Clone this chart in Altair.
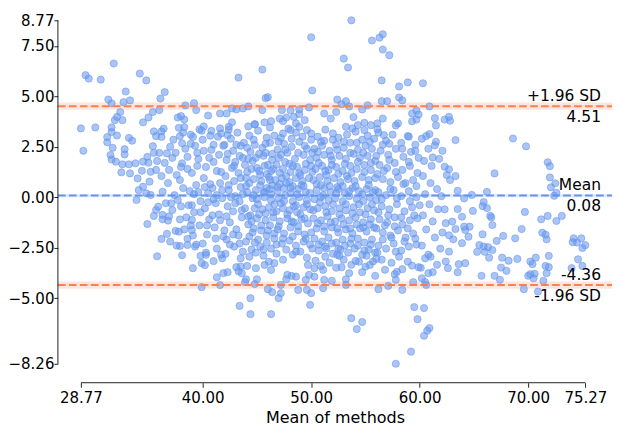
import altair as alt
import pandas as pd

# ---- data: (mean of methods, difference) ----
upper_left = [
    (31.8, 6.63), (29.2, 6.05), (29.5, 5.88), (30.6, 5.83), (34.2, 6.13), (34.8, 5.79), (43.3, 5.93),
    (32.9, 5.24), (31.3, 4.84), (31.6, 4.65), (32.7, 4.71), (33.3, 4.80), (36.1, 4.89), (36.5, 5.21),
    (38.4, 4.55), (39.2, 4.66), (39.4, 4.32), (32.4, 4.22), (32.1, 3.98), (31.9, 3.82), (32.6, 3.82),
    (35.4, 4.22), (36.0, 4.32), (35.0, 3.95), (34.5, 3.71), (37.7, 3.95), (38.0, 4.02), (38.3, 3.85),
    (40.5, 4.05), (41.6, 4.15), (42.2, 4.15), (42.7, 4.40), (43.1, 4.35), (43.7, 4.40), (44.2, 4.50),
    (42.7, 3.71), (42.4, 3.49), (44.2, 3.51), (44.8, 3.62), (28.77, 3.41), (30.1, 3.46), (31.6, 3.46),
    (31.6, 3.23), (31.2, 2.98), (32.1, 3.06), (37.8, 3.44), (38.3, 3.47), (37.9, 3.03), (35.5, 3.26),
    (36.2, 3.26), (35.7, 3.03), (40.1, 3.51), (39.7, 3.36), (40.8, 3.29), (41.6, 3.41), (41.7, 3.16),
    (42.3, 3.08), (39.1, 2.99), (33.2, 2.94),
]
upper_mid = [
    (53.7, 8.77), (50.0, 7.93), (56.6, 8.08), (56.3, 7.91), (55.6, 7.77), (56.6, 7.32), (57.2, 7.04),
    (53.0, 6.87), (53.4, 6.43), (45.5, 6.33), (56.5, 5.79), (58.9, 5.69), (60.3, 5.65), (58.1, 5.49),
    (50.1, 5.29), (45.8, 4.91), (46.0, 4.96), (52.4, 4.84), (53.2, 4.76), (52.8, 4.61), (53.5, 4.50),
    (55.2, 4.56), (54.7, 4.35), (58.1, 4.94), (58.4, 4.80), (56.5, 4.76), (57.0, 4.76), (49.8, 4.45),
    (60.9, 4.50), (59.7, 4.30), (59.3, 4.15), (59.9, 4.10), (59.7, 3.85), (45.5, 4.32), (47.3, 4.32),
    (48.1, 4.30), (48.9, 4.35), (51.2, 4.15), (52.3, 4.22), (51.8, 3.90), (53.9, 3.97), (56.6, 3.90),
    (61.4, 3.92), (62.3, 3.85), (62.7, 3.98), (61.5, 3.56), (45.7, 3.71), (46.2, 3.46), (46.3, 3.77),
    (44.8, 3.61), (47.1, 3.90), (47.7, 3.95), (48.4, 3.98), (48.9, 4.12), (49.4, 3.82), (47.4, 3.77),
    (48.6, 3.66), (48.9, 3.49), (49.6, 3.33), (50.0, 3.16), (48.1, 3.33), (47.4, 3.16), (47.2, 2.94),
    (52.0, 3.16), (53.2, 3.49), (54.3, 3.57), (54.9, 3.69), (55.5, 3.57), (56.1, 3.66), (56.1, 3.37),
    (54.9, 3.33), (53.8, 3.41), (57.8, 3.56), (58.0, 3.66), (59.3, 3.76), (60.6, 3.03), (60.9, 3.13),
    (58.9, 3.03), (56.7, 3.08), (62.8, 3.79), (68.6, 2.91), (63.3, 2.83),
]
right_side = [
    (69.8, 2.52), (61.4, 2.57), (61.2, 1.97), (71.8, 1.73), (72.0, 1.54), (66.9, 1.18), (72.0, 0.98),
    (72.5, 0.69), (72.1, 0.49), (72.6, 0.22), (72.4, 0.07), (66.2, 0.26), (64.8, 0.11), (64.1, -0.06),
    (63.5, 0.32), (63.3, 1.05), (62.8, 0.85), (62.3, 1.51), (62.7, 1.38), (65.9, -0.24), (66.2, -0.54),
    (65.8, -0.44), (64.9, -0.68), (66.5, -0.92), (66.6, -1.00), (66.7, -1.38), (69.7, -0.73), (71.2, -1.10),
    (71.8, -0.93), (72.6, -1.18), (73.1, -0.93), (69.4, -1.58), (67.7, -1.92), (68.8, -2.04), (67.1, -2.17),
    (65.8, -1.84), (71.3, -1.76), (71.6, -1.86), (71.7, -2.09), (74.2, -2.04), (74.9, -2.04), (74.1, -2.23),
    (74.5, -2.25), (75.0, -2.52), (75.27, -2.38), (63.9, -0.97), (63.5, -0.59), (62.3, -0.60), (63.0, -1.21),
    (62.4, -1.29), (63.3, -1.58), (64.1, -1.46), (64.6, -1.46), (64.2, -1.63), (64.5, -1.96), (62.7, -1.89),
    (63.1, -2.09), (63.9, -2.28), (65.5, -2.37), (65.9, -2.45), (66.3, -2.48), (66.7, -2.62), (65.3, -2.71),
    (66.4, -3.00), (67.6, -3.00), (68.2, -3.15), (69.0, -3.06), (70.7, -3.00), (70.2, -3.19), (71.9, -2.91),
    (74.6, -3.08), (61.0, -2.95), (62.4, -3.19), (63.6, -3.32), (64.2, -3.27), (67.5, -3.49), (71.6, -3.41),
    (62.6, -3.52), (63.5, -3.72), (61.2, -3.72), (65.7, -3.90), (66.9, -3.90), (67.4, -4.10), (68.0, -3.65),
    (66.0, -2.71), (70.4, -3.32), (71.9, -3.47), (71.7, -3.77), (70.0, -3.90), (70.2, -3.82), (70.6, -3.80),
    (70.5, -4.02), (71.4, -4.15), (69.6, -4.56), (70.9, -4.68), (74.0, -3.52), (75.0, -3.41),
]
lower_mid = [
    (57.8, -8.26), (59.2, -7.66), (60.4, -6.87), (60.7, -6.62), (60.9, -6.49), (59.8, -6.05), (59.5, -5.45),
    (60.4, -5.50), (53.7, -6.00), (54.7, -6.19), (54.2, -6.54), (49.9, -5.34), (46.3, -5.80), (44.4, -5.80),
    (44.4, -5.01), (47.0, -5.01), (47.2, -4.76), (46.4, -4.71), (46.0, -4.56), (48.8, -4.60), (49.6, -4.60),
    (50.0, -4.76), (51.1, -4.51), (56.2, -4.56), (57.1, -4.40), (58.4, -4.60), (59.4, -4.21), (60.5, -4.21),
    (60.6, -4.35), (57.8, -4.10), (57.7, -3.82), (58.4, -3.57), (59.3, -3.39), (59.9, -3.47), (60.2, -4.02),
    (60.8, -3.77), (53.2, -4.07), (53.2, -4.35), (51.9, -4.15), (51.2, -4.10), (50.3, -3.94), (49.8, -3.85),
    (49.5, -4.10), (44.8, -4.31), (45.0, -4.07), (47.2, -4.35), (47.7, -4.07), (48.2, -3.90), (48.6, -3.94),
    (53.5, -3.77), (54.7, -3.72), (55.9, -3.90), (60.5, -3.03), (55.4, -3.36), (55.7, -3.19), (56.0, -3.06),
    (55.1, -2.90), (54.1, -3.16), (52.8, -3.47), (52.6, -2.91), (52.4, -2.86), (51.3, -2.95), (50.9, -3.41),
    (50.3, -3.52), (49.7, -3.36), (47.8, -3.85), (46.6, -3.27), (46.3, -3.61), (45.7, -3.36), (44.9, -3.52),
]
lower_left = [
    (35.8, -2.93), (38.1, -2.88), (39.1, -3.52), (39.9, -3.27), (40.2, -3.37), (41.0, -3.17), (41.3, -3.97),
    (41.9, -3.77), (42.3, -3.72), (39.9, -4.46), (41.6, -4.36), (43.4, -5.39), (44.0, -4.07), (43.1, -3.47),
    (43.5, -3.44), (44.1, -3.41), (43.3, -3.67), (43.6, -3.77), (43.9, -4.21), (40.3, -2.86), (39.8, -2.91),
    (41.8, -3.03), (42.1, -2.81), (43.5, -3.03), (44.3, -2.95),
]
left_mid = [
    (29.0, 2.30), (31.2, 2.72), (31.7, 2.45), (33.5, 2.80), (32.8, 2.38), (32.8, 2.12), (31.5, 2.09),
    (31.6, 1.87), (32.0, 1.76), (32.6, 1.63), (33.2, 1.63), (33.8, 1.68), (32.5, 1.23), (33.3, 1.18),
    (34.0, 0.93), (34.4, 1.31), (34.5, 1.76), (34.9, 2.00), (35.4, 2.53), (36.2, 2.99), (36.7, 2.17),
    (37.0, 2.50), (38.1, 2.67), (37.5, 2.20), (35.5, 2.20), (35.0, 1.71), (35.7, 1.35), (35.2, 1.26),
    (36.2, 1.05), (36.9, 1.35), (34.1, 0.35), (33.9, -0.14), (34.5, 0.52), (35.1, 0.77), (34.8, 0.19),
    (35.2, 0.11), (36.3, 0.27), (35.9, -0.47), (35.7, -0.64), (35.5, -0.93), (36.3, -0.88), (36.3, -1.10),
    (36.8, -1.16), (34.9, -1.33), (36.2, -2.07), (36.7, -1.82), (37.5, -1.67), (37.8, -1.71), (37.1, -0.30),
    (37.2, -0.64), (37.7, -0.14), (37.9, 0.85), (38.1, 1.68), (38.6, -2.37), (37.9, -2.42), (38.6, -2.06),
    (39.0, -1.13), (39.0, -1.63), (39.3, -2.45),
    (36.0, 2.20), (36.5, 1.70), (37.2, 1.95), (37.6, 1.10), (38.2, 0.45), (36.8, 0.70), (37.4, 0.10),
    (38.0, -0.45), (36.6, -0.30), (37.9, -1.10), (38.3, -1.60), (37.0, -2.20), (38.4, 2.40), (37.3, 2.85),
    (36.4, 3.40), (38.2, 3.20), (35.8, 1.80), (36.9, -0.95), (38.0, 1.50), (37.6, -2.40),
]
core_38_45 = [
    (38.9, 3.10), (39.3, 2.55), (39.6, 1.90), (39.0, 1.20), (39.4, 0.60), (39.8, -0.20), (39.2, -0.75),
    (39.7, -1.40), (39.5, 2.20), (40.0, 2.85), (40.3, 1.50), (40.1, 0.95), (40.5, 0.20), (40.2, -0.55),
    (40.6, -1.10), (40.4, -1.85), (40.0, -2.30), (40.8, 2.35), (41.0, 1.75), (40.9, 0.45), (41.2, -0.30),
    (41.1, -1.50), (41.4, 3.00), (41.5, 2.10), (41.7, 1.25), (41.6, 0.70), (41.8, -0.05), (41.5, -0.85),
    (41.9, -1.95), (41.3, -2.55), (42.0, 2.60), (42.2, 1.85), (42.1, 1.05), (42.4, 0.35), (42.3, -0.45),
    (42.5, -1.25), (42.2, -2.10), (42.6, 2.90), (42.8, 2.30), (42.7, 1.45), (42.9, 0.80), (43.0, 0.05),
    (42.8, -0.70), (43.1, -1.60), (42.9, -2.45), (43.2, 3.20), (43.4, 2.05), (43.3, 1.20), (43.5, 0.50),
    (43.4, -0.20), (43.6, -1.00), (43.3, -1.90), (43.7, -2.70), (43.8, 2.70), (43.9, 1.60), (44.0, 0.95),
    (44.1, 0.25), (43.9, -0.55), (44.2, -1.35), (44.0, -2.20), (44.3, 3.05), (44.4, 2.25), (44.5, 1.40),
    (44.3, 0.70), (44.6, -0.05), (44.4, -0.90), (44.6, -1.75), (44.5, -2.60), (38.7, -0.40), (38.8, 0.30),
    (38.6, 2.00), (39.1, -1.90), (38.5, -1.00), (39.9, 3.30), (40.7, 3.05), (41.3, 0.10), (42.0, -1.65),
    (42.6, 0.00), (43.0, 1.75), (43.7, 0.15), (44.2, 1.90), (40.3, -2.75), (41.7, -2.85), (43.5, 2.55),
    (42.4, 3.35), (41.0, 2.60), (39.6, 0.25), (40.9, -0.90),
    (38.6, 1.40), (38.9, -1.40), (39.2, 0.15), (39.5, 1.55), (39.8, -0.75), (40.1, 2.30), (40.4, -1.40),
    (40.7, 0.65), (41.0, -0.10), (41.3, 1.30), (41.6, -1.15), (41.9, 2.55), (39.4, -2.35), (40.6, 1.95),
    (41.2, -2.05), (38.9, 2.65), (40.2, 0.50), (41.8, 0.35), (39.0, -0.40), (40.5, -0.25),
]
core_45_50 = [
    (45.1, 3.30), (46.6, 3.05), (47.9, 3.40), (49.2, 3.00), (45.9, 2.95), (48.6, 3.20),
    (44.8, 2.60), (45.5, 2.45), (46.2, 2.70), (46.9, 2.35), (47.5, 2.65), (48.2, 2.50), (48.9, 2.75),
    (49.6, 2.40), (45.8, 2.20), (47.2, 2.10),
    (44.9, 1.95), (45.6, 2.05), (46.4, 1.85), (47.0, 1.95), (47.8, 2.20), (48.5, 1.90), (49.3, 2.10),
    (49.9, 1.85), (46.0, 1.60), (48.0, 1.65),
    (45.0, 1.45), (45.7, 1.55), (46.3, 1.30), (46.8, 1.60), (47.4, 1.40), (48.1, 1.25), (48.7, 1.50),
    (49.4, 1.35), (50.0, 1.55), (45.3, 1.10), (47.7, 1.05), (49.0, 1.10),
    (44.7, 0.90), (45.4, 0.80), (46.1, 1.00), (46.7, 0.85), (47.3, 0.95), (48.0, 0.75), (48.6, 0.95),
    (49.2, 0.80), (49.8, 0.95), (46.4, 0.60), (48.3, 0.55), (45.9, 0.45),
    (44.9, 0.35), (45.6, 0.25), (46.2, 0.40), (46.9, 0.30), (47.5, 0.45), (48.1, 0.20), (48.8, 0.40),
    (49.5, 0.25), (47.1, 0.65), (49.1, 0.60),
    (45.0, -0.10), (45.7, 0.00), (46.3, -0.15), (47.0, -0.05), (47.6, 0.10), (48.3, -0.20), (48.9, 0.00),
    (49.6, -0.15), (46.6, -0.35), (48.6, -0.40),
    (44.8, -0.55), (45.5, -0.60), (46.1, -0.50), (46.8, -0.70), (47.4, -0.55), (48.0, -0.65), (48.7, -0.75),
    (49.3, -0.50), (49.9, -0.60), (45.2, -0.85),
    (45.0, -1.05), (45.8, -1.15), (46.5, -1.00), (47.1, -1.20), (47.8, -1.05), (48.4, -1.25), (49.1, -1.10),
    (49.7, -1.30), (46.2, -1.40), (48.1, -1.50),
    (44.7, -1.55), (45.4, -1.65), (46.9, -1.60), (47.5, -1.80), (48.8, -1.70), (49.4, -1.85), (45.9, -1.90),
    (45.1, -2.10), (45.9, -2.25), (46.6, -2.05), (47.3, -2.30), (48.0, -2.15), (48.6, -2.40), (49.3, -2.20),
    (49.9, -2.35), (46.3, -2.55), (47.7, -2.60),
    (44.9, -2.75), (45.6, -2.90), (46.8, -2.80), (48.3, -2.85), (49.0, -2.70), (49.6, -3.00), (47.4, -3.10),
    (46.1, -3.20),
]
core_50_56 = [
    (50.6, 3.00), (51.3, 3.35), (52.5, 2.95), (53.3, 3.10), (54.1, 3.25), (55.2, 3.05), (55.8, 2.90),
    (50.9, 2.75),
    (50.3, 2.40), (51.0, 2.55), (51.7, 2.30), (52.3, 2.60), (53.0, 2.45), (53.6, 2.70), (54.3, 2.35),
    (55.0, 2.55), (55.6, 2.40), (52.0, 2.85), (54.7, 2.85),
    (50.5, 1.95), (51.2, 2.10), (51.9, 1.85), (52.6, 2.05), (53.2, 1.90), (53.9, 2.15), (54.5, 1.95),
    (55.2, 2.05), (55.9, 1.80), (50.1, 2.20),
    (50.4, 1.40), (51.0, 1.55), (51.6, 1.35), (52.3, 1.50), (52.9, 1.30), (53.6, 1.55), (54.2, 1.40),
    (54.9, 1.60), (55.5, 1.35), (51.4, 1.10), (53.3, 1.05),
    (50.2, 0.85), (50.8, 1.00), (51.5, 0.80), (52.1, 0.95), (52.7, 0.75), (53.4, 0.90), (54.0, 0.80),
    (54.7, 1.00), (55.3, 0.85), (55.9, 0.95), (52.4, 0.50),
    (50.5, 0.35), (51.2, 0.45), (51.8, 0.25), (52.5, 0.40), (53.1, 0.20), (53.8, 0.45), (54.4, 0.30),
    (55.1, 0.40), (55.7, 0.25), (50.9, 0.60),
    (50.3, -0.10), (50.9, 0.00), (51.6, -0.15), (52.2, -0.05), (52.9, -0.20), (53.5, 0.05), (54.2, -0.10),
    (54.8, -0.20), (55.4, 0.00), (56.0, -0.15),
    (50.6, -0.55), (51.3, -0.45), (51.9, -0.70), (52.6, -0.55), (53.2, -0.65), (53.9, -0.50), (54.5, -0.75),
    (55.2, -0.55), (55.8, -0.65),
    (50.2, -1.05), (50.9, -1.15), (51.5, -0.95), (52.2, -1.20), (52.8, -1.05), (53.5, -1.15), (54.1, -1.00),
    (54.8, -1.25), (55.5, -1.10),
    (50.5, -1.55), (51.2, -1.70), (51.9, -1.50), (52.5, -1.75), (53.2, -1.60), (53.8, -1.80), (54.5, -1.55),
    (55.1, -1.70), (55.8, -1.50),
    (50.3, -2.05), (51.0, -2.20), (51.6, -2.00), (52.3, -2.25), (52.9, -2.10), (53.6, -2.30), (54.3, -2.05),
    (54.9, -2.25), (55.6, -2.10),
    (50.7, -2.65), (51.4, -2.55), (52.0, -2.80), (52.7, -2.60), (53.4, -2.75), (54.0, -2.55), (54.7, -2.85),
    (55.3, -2.60), (55.9, -2.75),
    (50.4, -3.15), (51.7, -3.25), (53.0, -3.10), (53.7, -3.35), (54.4, -3.20), (55.0, -3.45), (52.3, -3.50),
    (51.1, -3.60),
]
core_56_63 = [
    (56.2, 3.20), (56.9, 2.80), (57.5, 3.10), (58.3, 2.70), (59.0, 3.00), (59.6, 2.60),
    (56.4, 2.30), (57.1, 2.10), (57.8, 2.40), (58.5, 2.00), (59.2, 2.25), (59.9, 1.95),
    (56.3, 1.60), (57.0, 1.45), (57.7, 1.70), (58.4, 1.35), (59.1, 1.55), (59.8, 1.20),
    (56.6, 0.90), (57.3, 0.75), (58.0, 1.00), (58.7, 0.70), (59.4, 0.85),
    (56.2, 0.25), (56.9, 0.10), (57.6, 0.35), (58.3, 0.05), (59.0, 0.30), (59.7, 0.00),
    (56.5, -0.45), (57.2, -0.60), (57.9, -0.35), (58.6, -0.70), (59.3, -0.50), (60.0, -0.40),
    (56.3, -1.10), (57.0, -1.25), (57.7, -1.00), (58.4, -1.35), (59.1, -1.15), (59.8, -1.05),
    (56.6, -1.75), (57.3, -1.90), (58.0, -1.65), (58.7, -2.00), (59.4, -1.80),
    (56.2, -2.40), (56.9, -2.55), (57.6, -2.30), (58.3, -2.65), (59.0, -2.45), (59.7, -2.35),
    (56.5, -3.10), (57.4, -3.25), (58.1, -2.95), (58.9, -3.20), (56.8, -3.60), (57.9, -3.70),
    (60.2, 2.90), (60.8, 2.40), (61.5, 2.75), (62.1, 2.30), (60.4, 1.80), (61.1, 1.55), (61.8, 1.90),
    (62.5, 1.10), (60.3, 1.05), (61.0, 0.70), (61.6, 0.40), (60.5, 0.15), (62.0, 0.05), (60.9, -0.35),
    (61.7, -0.60), (60.3, -0.90), (61.2, -1.20), (62.1, -1.75), (60.6, -1.60), (61.4, -2.00), (60.2, -2.40),
    (61.9, -2.55), (60.8, -2.85), (61.6, -3.35), (60.1, -3.50), (62.7, -2.70),
]
core_dense = [
    (42.3, 2.15), (42.4, 0.60), (42.2, -0.95), (42.5, -2.35),
    (42.9, 1.55), (43.0, -0.30), (42.8, -1.85), (43.1, 2.60),
    (43.5, 0.95), (43.6, -0.65), (43.4, -2.30), (43.7, 1.95),
    (44.1, 2.45), (44.0, 0.55), (44.2, -0.95), (44.3, -1.95), (44.1, 1.25),
    (44.6, 1.80), (44.7, 0.10), (44.5, -1.20), (44.8, -2.25), (44.7, 2.85),
    (45.2, 2.15), (45.3, 0.60), (45.1, -0.35), (45.4, -1.40), (45.2, 1.30), (45.3, -2.45),
    (45.8, 2.65), (45.9, 1.15), (45.7, 0.25), (45.8, -0.80), (46.0, -1.65), (45.6, -2.60),
    (46.4, 2.15), (46.5, 1.40), (46.3, 0.15), (46.5, -0.75), (46.6, -1.80), (46.2, 0.85),
    (47.0, 2.75), (47.1, 1.20), (46.9, 0.50), (47.2, -0.30), (47.0, -1.45), (46.8, -2.35),
    (47.6, 1.75), (47.7, 0.70), (47.5, -0.20), (47.8, -0.85), (47.4, -2.05), (47.6, 2.35),
    (48.2, 2.90), (48.3, 1.55), (48.1, 0.45), (48.4, -0.45), (48.2, -1.20), (48.3, -1.95),
    (48.8, 2.20), (48.9, 1.20), (48.7, 0.15), (49.0, -0.85), (48.8, -1.45), (48.6, -2.70),
    (49.4, 2.55), (49.5, 1.65), (49.3, 0.55), (49.6, -0.35), (49.4, -1.05), (49.5, -2.05),
    (50.0, 2.85), (50.1, 1.25), (49.9, 0.20), (50.2, -0.65), (50.0, -1.75), (50.1, -2.55),
    (50.6, 2.25), (50.7, 1.70), (50.5, 0.65), (50.8, -0.25), (50.6, -1.30), (50.7, -2.35),
    (51.2, 2.80), (51.3, 1.30), (51.1, 0.10), (51.4, -0.75), (51.2, -1.45), (51.3, -2.45),
    (51.8, 2.05), (51.9, 1.60), (51.7, 0.55), (52.0, -0.35), (51.8, -1.25), (51.9, -2.30),
    (52.4, 2.35), (52.5, 1.15), (52.3, 0.20), (52.6, -0.85), (52.4, -1.55), (52.5, -2.55),
    (53.0, 2.75), (53.1, 1.65), (52.9, 0.55), (53.2, -0.35), (53.0, -1.35), (53.1, -2.40),
    (53.6, 2.20), (53.7, 1.20), (53.5, 0.30), (53.8, -0.80), (53.6, -1.55), (53.7, -2.05),
    (54.2, 2.70), (54.3, 1.75), (54.1, 0.55), (54.4, -0.35), (54.2, -1.35), (54.3, -2.40),
    (54.8, 2.20), (54.9, 1.25), (54.7, 0.15), (55.0, -0.85), (54.8, -1.50), (54.9, -2.65),
    (55.4, 2.75), (55.5, 1.70), (55.3, 0.60), (55.6, -0.35), (55.4, -1.35), (55.5, -2.35),
    (56.0, 2.05), (56.1, 1.15), (55.9, 0.35), (56.2, -0.75), (56.0, -1.55), (56.1, -2.75),
    (56.6, 2.60), (56.7, 1.30), (56.5, -0.10), (56.8, -1.40), (56.6, -2.10),
    (57.2, 1.85), (57.3, 0.40), (57.1, -0.90), (57.4, -2.00), (57.2, 2.65),
    (57.8, 1.25), (57.9, -0.05), (57.7, -1.45), (57.8, -2.70),
    (58.4, 2.40), (58.5, 0.65), (58.3, -1.00), (58.6, -2.20),
    (59.0, 1.75), (59.1, -0.20), (58.9, -1.55),
    (59.6, 2.30), (59.7, 0.55), (59.5, -0.90), (59.6, -2.05),
]

mean_diff = 0.08
upper_loa = 4.51
lower_loa = -4.36
mean_ci = (0.0, 0.16)
upper_ci = (4.33, 4.69)
lower_ci = (-4.54, -4.18)

x_ticks = [28.77, 40.0, 50.0, 60.0, 70.0, 75.27]
y_ticks = [-8.26, -5.0, -2.5, 0.0, 2.5, 5.0, 7.5, 8.77]

above_labels = ["+1.96 SD", "Mean", "-4.36"]
above_values = [upper_loa, mean_diff, lower_loa]
below_labels = ["4.51", "0.08", "-1.96 SD"]
below_values = [upper_loa, mean_diff, lower_loa]

POINT = "#6495ED"
LOA = "#FF7F50"
FONT = "DejaVu Sans"

all_pairs = (upper_left + upper_mid + right_side + lower_mid + lower_left + left_mid
             + core_38_45 + core_45_50 + core_50_56 + core_56_63 + core_dense)
points_df = pd.DataFrame(all_pairs, columns=["mean", "diff"])

W, H = 555, 375
xs = alt.Scale(domain=[26.654, 77.727], nice=False, zero=False)
ys = alt.Scale(domain=[-9.2006, 9.364], nice=False, zero=False)

x_axis = alt.Axis(values=x_ticks, format=".2f", title="Mean of methods", domain=False, grid=False,
                  tickSize=4.5, labelPadding=3, titlePadding=4, labelOverlap=False, labelFlush=False)
y_axis = alt.Axis(values=y_ticks, format=".2f", title="", domain=False, grid=False,
                  tickSize=4, labelPadding=0, labelOverlap=False, labelFlush=False)

bands_df = pd.DataFrame({
    "lo": [mean_ci[0], upper_ci[0], lower_ci[0]],
    "hi": [mean_ci[1], upper_ci[1], lower_ci[1]],
    "kind": ["mean", "loa", "loa"],
})
lines_df = pd.DataFrame({"y": [mean_diff, upper_loa, lower_loa], "kind": ["mean", "loa", "loa"]})
kind_color = alt.Color("kind:N", scale=alt.Scale(domain=["mean", "loa"], range=[POINT, LOA]), legend=None)

bands = alt.Chart(bands_df).mark_rect(opacity=0.2).encode(
    x=alt.value(0), x2=alt.value(W),
    y=alt.Y("lo:Q", scale=ys, axis=y_axis), y2="hi:Q",
    color=kind_color,
)

points = alt.Chart(points_df).mark_circle(
    size=52, fillOpacity=0.55, stroke=POINT, strokeWidth=1, strokeOpacity=0.55, color=POINT
).encode(
    x=alt.X("mean:Q", scale=xs, axis=x_axis),
    y=alt.Y("diff:Q", scale=ys, axis=y_axis),
)

lines = alt.Chart(lines_df).mark_rule(strokeDash=[7.7, 3.3], strokeWidth=2).encode(
    x=alt.value(0), x2=alt.value(W),
    y=alt.Y("y:Q", scale=ys, axis=y_axis),
    color=kind_color,
)

left_spine = alt.Chart(pd.DataFrame({"a": [y_ticks[0]], "b": [y_ticks[-1]]})).mark_rule(
    color="#222", strokeWidth=1).encode(
    x=alt.value(0), y=alt.Y("a:Q", scale=ys, axis=y_axis), y2="b:Q")
bottom_spine = alt.Chart(pd.DataFrame({"a": [x_ticks[0]], "b": [x_ticks[-1]]})).mark_rule(
    color="#222", strokeWidth=1).encode(
    y=alt.value(H), x=alt.X("a:Q", scale=xs, axis=x_axis), x2="b:Q")

above = alt.Chart(pd.DataFrame({"y": above_values, "t": above_labels})).mark_text(
    align="right", baseline="middle", dy=-10.5, font=FONT, fontSize=15.5, color="black").encode(
    x=alt.value(544), y=alt.Y("y:Q", scale=ys, axis=y_axis), text="t:N")
below = alt.Chart(pd.DataFrame({"y": below_values, "t": below_labels})).mark_text(
    align="right", baseline="middle", dy=10.5, font=FONT, fontSize=15.5, color="black").encode(
    x=alt.value(544), y=alt.Y("y:Q", scale=ys, axis=y_axis), text="t:N")

chart = alt.layer(bands, points, lines, left_spine, bottom_spine, above, below).properties(
    width=W, height=H,
    padding={"left": 50, "top": 0, "right": 0, "bottom": 45},
    autosize=alt.AutoSizeParams(type="none"),
    background="white",
).configure_view(stroke=None).configure_axis(
    labelFont=FONT, labelFontSize=15, labelColor="black",
    titleFont=FONT, titleFontSize=16, titleFontWeight="normal", titleColor="black",
    tickColor="#222", tickWidth=1,
)

chart.save("out.html", embed_options={"renderer": "svg", "actions": False})
